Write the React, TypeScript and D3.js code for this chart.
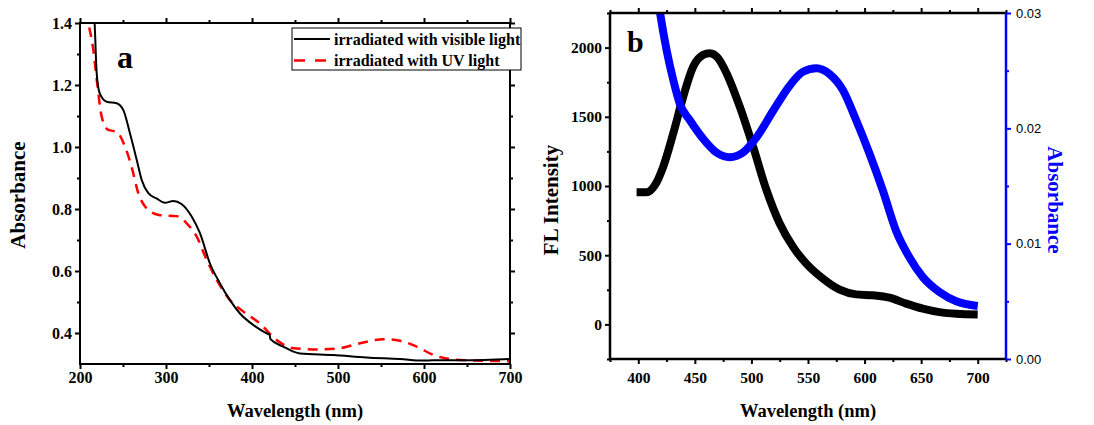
import React, { useEffect, useRef } from 'react';
import * as d3 from 'd3';

// panel a: absorption spectra
const visibleWl = [214, 217, 219.4, 223, 231, 242.6, 250.4, 258, 266, 271.7, 279.5, 289, 298.8, 308.5, 318, 330, 339.5, 351, 362.8, 374.4, 386, 401.5, 417, 420.5, 421.5, 436.4, 448, 455.8, 494.5, 533, 572, 599, 611, 649, 700];
const visibleAbs = [1.5, 1.4, 1.238, 1.173, 1.146, 1.141, 1.119, 1.045, 0.958, 0.894, 0.851, 0.834, 0.82, 0.826, 0.816, 0.775, 0.722, 0.625, 0.56, 0.506, 0.463, 0.426, 0.399, 0.394, 0.38, 0.356, 0.34, 0.334, 0.329, 0.321, 0.316, 0.311, 0.312, 0.312, 0.316];
const uvWl = [207, 209.7, 215.5, 220, 225.2, 233, 242.6, 252.3, 260, 267.8, 277.5, 293, 312.4, 324, 335.7, 347.3, 359, 374.4, 390, 409, 428.7, 448, 475, 502, 525.6, 552.7, 572, 591.5, 611, 630, 649, 700];
const uvAbs = [1.44, 1.4, 1.313, 1.205, 1.098, 1.055, 1.049, 1.001, 0.936, 0.851, 0.802, 0.78, 0.777, 0.754, 0.711, 0.636, 0.571, 0.506, 0.469, 0.431, 0.377, 0.351, 0.347, 0.351, 0.367, 0.38, 0.375, 0.356, 0.329, 0.316, 0.312, 0.309];

// panel b: fluorescence + absorbance
const flWl = [398.5, 407.3, 414.7, 422, 430.9, 439.7, 448.5, 457.3, 463.2, 470.6, 478, 489.7, 501.5, 513.3, 525, 536.8, 548.5, 563.2, 578, 592.6, 607.4, 622, 636.8, 651.5, 666.2, 681, 700];
const flIntensity = [954, 954, 1006, 1139, 1380, 1645, 1862, 1947, 1959, 1923, 1815, 1573, 1283, 970, 729, 560, 439, 331, 251, 217, 210, 193, 150, 114, 89, 77, 72];
const absWl = [416, 419.6, 425, 430.9, 436.8, 445.6, 457.3, 469.1, 480.9, 492.6, 504.4, 519.1, 533.8, 545.6, 557.4, 569.1, 580.9, 592.6, 604.4, 616.2, 627.9, 639.7, 651.5, 666.2, 681, 700];
const absValues = [0.0322, 0.0298, 0.0268, 0.0242, 0.0221, 0.0207, 0.0191, 0.0179, 0.0175, 0.0179, 0.0192, 0.0215, 0.0237, 0.0249, 0.0252, 0.0247, 0.0233, 0.0207, 0.0178, 0.0146, 0.0111, 0.0088, 0.0071, 0.0058, 0.005, 0.0046];

const aXTicks = [200, 300, 400, 500, 600, 700];
const aXMinor = [250, 350, 450, 550, 650];
const aYTicks = [0.4, 0.6, 0.8, 1.0, 1.2, 1.4];
const aYMinor = [0.5, 0.7, 0.9, 1.1, 1.3];
const bXTicks = [400, 450, 500, 550, 600, 650, 700];
const bXMinor = [375, 425, 475, 525, 575, 625, 675, 725];
const bYTicks = [0, 500, 1000, 1500, 2000];
const bYMinor = [-250, 250, 750, 1250, 1750, 2250];
const bY2Ticks = [0, 0.01, 0.02, 0.03];
const bY2Minor = [0.005, 0.015, 0.025];
const legendLabels = ['irradiated with visible light', 'irradiated with UV light'];

const SERIF = '"Liberation Serif", "Times New Roman", serif';
const SANS = '"Liberation Sans", Arial, sans-serif';
const BLUE = '#0000ff';

function styleAxis(g, color, fontSize, family, weight) {
    g.select('.domain').remove();
    g.selectAll('line').attr('stroke', color).attr('stroke-width', 2);
    g.selectAll('text')
        .attr('fill', '#000')
        .style('font-family', family)
        .style('font-weight', weight)
        .style('font-size', fontSize + 'px');
}

function addAxis(parent, axisFn, scale, major, minor, {x = 0, y = 0, fmt = null, color = '#000', fontSize = 16, family = SERIF, weight = 'bold', padding = 3} = {}) {
    const g = parent.append('g').attr('transform', `translate(${x},${y})`);
    const mj = axisFn(scale).tickValues(major).tickSize(5).tickPadding(padding).tickSizeOuter(0);
    if (fmt) mj.tickFormat(fmt);
    g.call(mj);
    styleAxis(g, color, fontSize, family, weight);
    const gm = parent.append('g').attr('transform', `translate(${x},${y})`);
    gm.call(axisFn(scale).tickValues(minor).tickSize(3).tickFormat(() => '').tickSizeOuter(0));
    styleAxis(gm, color, fontSize, family, weight);
}

function label(parent, txt, {x = 0, y = 0, transform = null, size = 16, anchor = 'start', fill = '#000'} = {}) {
    const t = parent.append('text')
        .attr('fill', fill)
        .attr('text-anchor', anchor)
        .style('font-family', SERIF)
        .style('font-weight', 'bold')
        .style('font-size', size + 'px')
        .text(txt);
    if (transform) t.attr('transform', transform);
    else t.attr('x', x).attr('y', y);
    return t;
}

function drawPanelA(svg) {
    const m = {left: 80, right: 510, top: 23, bottom: 364};
    const x = d3.scaleLinear().domain([200, 700]).range([m.left, m.right]);
    const y = d3.scaleLinear().domain([0.3, 1.4]).range([m.bottom, m.top]);

    svg.append('clipPath').attr('id', 'clip-a')
        .append('rect').attr('x', m.left).attr('y', m.top).attr('width', m.right - m.left).attr('height', m.bottom - m.top);

    const line = d3.line().curve(d3.curveMonotoneX).x(d => x(d[0])).y(d => y(d[1]));
    const plot = svg.append('g').attr('clip-path', 'url(#clip-a)');
    plot.append('path')
        .attr('d', line(uvWl.map((w, i) => [w, uvAbs[i]])))
        .attr('fill', 'none').attr('stroke', '#ff0000').attr('stroke-width', 2.5)
        .attr('stroke-dasharray', '10,7');
    plot.append('path')
        .attr('d', line(visibleWl.map((w, i) => [w, visibleAbs[i]])))
        .attr('fill', 'none').attr('stroke', '#000').attr('stroke-width', 2);

    addAxis(svg, d3.axisBottom, x, aXTicks, aXMinor, {y: m.bottom, fmt: d3.format('d')});
    addAxis(svg, d3.axisTop, x, aXTicks, aXMinor, {y: m.top, fmt: () => ''});
    addAxis(svg, d3.axisLeft, y, aYTicks, aYMinor, {x: m.left, fmt: d3.format('.1f')});
    addAxis(svg, d3.axisRight, y, aYTicks, aYMinor, {x: m.right, fmt: () => ''});

    svg.append('rect')
        .attr('x', m.left).attr('y', m.top).attr('width', m.right - m.left).attr('height', m.bottom - m.top)
        .attr('fill', 'none').attr('stroke', '#000').attr('stroke-width', 2);

    // legend
    const lg = svg.append('g');
    lg.append('rect').attr('x', 292).attr('y', 28).attr('width', 229).attr('height', 42)
        .attr('fill', '#fff').attr('stroke', '#000').attr('stroke-width', 1);
    lg.append('line').attr('x1', 294).attr('x2', 330).attr('y1', 39).attr('y2', 39)
        .attr('stroke', '#000').attr('stroke-width', 2);
    lg.append('line').attr('x1', 294).attr('x2', 330).attr('y1', 60.5).attr('y2', 60.5)
        .attr('stroke', '#ff0000').attr('stroke-width', 2.5).attr('stroke-dasharray', '11,10');
    legendLabels.forEach((t, i) => label(lg, t, {x: 334, y: 45 + i * 21, size: 16}));

    label(svg, 'a', {x: 117, y: 68, size: 32});
    label(svg, 'Wavelength (nm)', {x: (m.left + m.right) / 2, y: 417, size: 18.5, anchor: 'middle'});
    label(svg, 'Absorbance', {transform: 'translate(25,195) rotate(-90)', size: 21, anchor: 'middle'});
}

function drawPanelB(svg) {
    const m = {left: 610, right: 1006, top: 13, bottom: 359};
    const x = d3.scaleLinear().domain([375, 725]).range([m.left, m.right]);
    const y = d3.scaleLinear().domain([-250, 2250]).range([m.bottom, m.top]);
    const y2 = d3.scaleLinear().domain([0, 0.03]).range([m.bottom, m.top]);

    svg.append('clipPath').attr('id', 'clip-b')
        .append('rect').attr('x', m.left).attr('y', m.top).attr('width', m.right - m.left).attr('height', m.bottom - m.top);

    const plot = svg.append('g').attr('clip-path', 'url(#clip-b)');
    const flLine = d3.line().curve(d3.curveMonotoneX).x(d => x(d[0])).y(d => y(d[1]));
    const absLine = d3.line().curve(d3.curveMonotoneX).x(d => x(d[0])).y(d => y2(d[1]));
    plot.append('path')
        .attr('d', flLine(flWl.map((w, i) => [w, flIntensity[i]])))
        .attr('fill', 'none').attr('stroke', '#000').attr('stroke-width', 8).attr('stroke-linejoin', 'round');
    plot.append('path')
        .attr('d', absLine(absWl.map((w, i) => [w, absValues[i]])))
        .attr('fill', 'none').attr('stroke', BLUE).attr('stroke-width', 8).attr('stroke-linejoin', 'round');

    addAxis(svg, d3.axisBottom, x, bXTicks, bXMinor, {y: m.bottom, fontSize: 15.5, padding: 8, fmt: d3.format('d')});
    addAxis(svg, d3.axisTop, x, bXTicks, bXMinor, {y: m.top, fmt: () => ''});
    addAxis(svg, d3.axisLeft, y, bYTicks, bYMinor, {x: m.left, fontSize: 15.5, fmt: d3.format('d')});
    addAxis(svg, d3.axisRight, y2, bY2Ticks, bY2Minor, {x: m.right, fmt: d3.format('.2f'), color: BLUE, fontSize: 13, family: SANS, weight: 'normal', padding: 5});

    svg.append('path')
        .attr('d', `M${m.right},${m.top}H${m.left}V${m.bottom}H${m.right}`)
        .attr('fill', 'none').attr('stroke', '#000').attr('stroke-width', 2.5);
    svg.append('line').attr('x1', m.right).attr('x2', m.right).attr('y1', m.top).attr('y2', m.bottom)
        .attr('stroke', BLUE).attr('stroke-width', 2.5);

    label(svg, 'b', {x: 627, y: 52, size: 30});
    label(svg, 'Wavelength (nm)', {x: 808, y: 417, size: 18.5, anchor: 'middle'});
    label(svg, 'FL Intensity', {transform: 'translate(558,200) rotate(-90)', size: 21, anchor: 'middle'});
    label(svg, 'Absorbance', {transform: 'translate(1048,200) rotate(90)', size: 21, anchor: 'middle', fill: BLUE});
}

export default function App() {
    const ref = useRef(null);

    useEffect(() => {
        const svg = d3.select(ref.current);
        svg.selectAll('*').remove();
        drawPanelA(svg);
        drawPanelB(svg);
    }, []);

    return (
        <svg ref={ref} width={1094} height={425}
             style={{position: 'absolute', left: 0, top: 0, background: '#fff'}}/>
    );
}
